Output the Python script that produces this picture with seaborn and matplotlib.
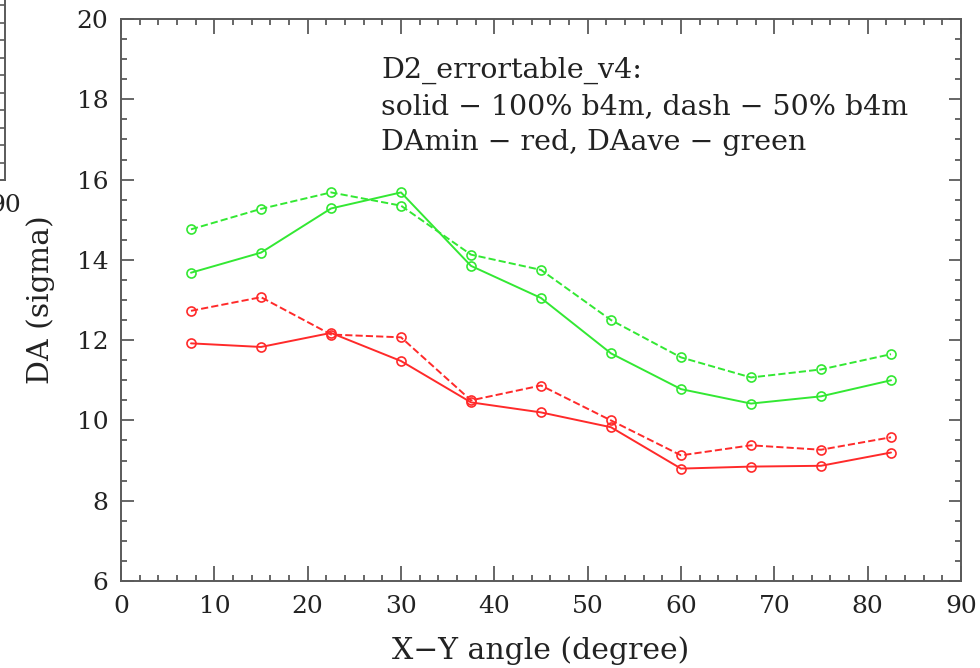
import numpy as np
import pandas as pd
import matplotlib
matplotlib.use("Agg")
import matplotlib.pyplot as plt
from matplotlib.ticker import MultipleLocator, FixedLocator, NullFormatter
import seaborn as sns

# ---- data ----
angles = [7.5, 15, 22.5, 30, 37.5, 45, 52.5, 60, 67.5, 75, 82.5]
damin_100 = [11.92, 11.83, 12.18, 11.48, 10.45, 10.20, 9.83, 8.80, 8.85, 8.87, 9.20]
damin_50 = [12.73, 13.07, 12.14, 12.07, 10.50, 10.87, 10.00, 9.13, 9.38, 9.27, 9.58]
daave_100 = [13.68, 14.18, 15.28, 15.68, 13.85, 13.05, 11.67, 10.78, 10.42, 10.60, 11.00]
daave_50 = [14.76, 15.27, 15.68, 15.35, 14.13, 13.75, 12.50, 11.57, 11.07, 11.27, 11.65]

x_ticks = [0, 10, 20, 30, 40, 50, 60, 70, 80, 90]
y_ticks = [6, 8, 10, 12, 14, 16, 18, 20]

note_lines = ["D2_errortable_v4:",
              "solid \u2212 100% b4m, dash \u2212 50% b4m",
              "DAmin \u2212 red, DAave \u2212 green"]

sns.set_style("ticks")
plt.rcParams["font.family"] = ["DejaVu Serif"]
plt.rcParams["mathtext.fontset"] = "dejavuserif"

RED = "#ff2a2a"
GREEN = "#33e833"
AXC = "#5a5a5a"
TXT = "#222222"

fig = plt.figure(figsize=(9.8, 6.68), dpi=100)
W, H = 980, 668
ax = fig.add_axes([121 / W, 1 - 581 / H, (961 - 121) / W, (581 - 19) / H])

series = [
    (damin_100, RED, "-"),
    (damin_50, RED, "--"),
    (daave_100, GREEN, "-"),
    (daave_50, GREEN, "--"),
]
for vals, col, ls in series:
    df = pd.DataFrame({"angle": angles, "DA": vals})
    sns.lineplot(data=df, x="angle", y="DA", ax=ax, color=col, linestyle=ls,
                 linewidth=1.4, marker="o", markersize=6.5, mfc="none", mec=col,
                 mew=1.2, dashes=(6.5, 4.5) if ls == "--" else None)

ax.set_xlim(0, 90)
ax.set_ylim(6, 20)
ax.set_xticks(x_ticks)
ax.set_yticks(y_ticks)
ax.xaxis.set_minor_locator(MultipleLocator(2))
ax.yaxis.set_minor_locator(MultipleLocator(0.5))
ax.tick_params(which="both", direction="in", top=True, right=True,
               color=AXC, width=1.3, labelsize=18, labelcolor=TXT)
ax.tick_params(axis="x", which="major", length=10.5, pad=10)
ax.tick_params(axis="y", which="major", length=9, pad=9)
ax.tick_params(which="minor", length=4.3)
for sp in ax.spines.values():
    sp.set_visible(True)
    sp.set_color(AXC)
    sp.set_linewidth(1.4)

ax.set_xlabel("X\u2212Y angle (degree)", fontsize=21.5, color=TXT, labelpad=13)
ax.set_ylabel("DA (sigma)", fontsize=21.5, color=TXT, labelpad=16)

ax.text(27.9, 19.05, "\n".join(note_lines), fontsize=20.5, color=TXT,
        va="top", ha="left", linespacing=1.42)

# ---- cropped neighbouring panel at the far left ----
ax2 = fig.add_axes([-300 / W, 1 - 180 / H, 305 / W, 200 / H])
ax2.set_xlim(0, 90)
ax2.set_ylim(0, 200)
ax2.set_xticks([90])
ax2.set_xticklabels(["90"])
ax2.yaxis.set_major_locator(FixedLocator(np.arange(17.5, 200, 17.5)))
ax2.yaxis.set_major_formatter(NullFormatter())
ax2.tick_params(axis="y", direction="in", left=False, right=True, length=3.8,
                color=AXC, width=1.2)
ax2.tick_params(axis="x", direction="in", length=0, labelsize=18, pad=10,
                labelcolor=TXT)
for sp in ax2.spines.values():
    sp.set_color(AXC)
    sp.set_linewidth(1.4)

fig.savefig("out.png", dpi=100, facecolor="white")
